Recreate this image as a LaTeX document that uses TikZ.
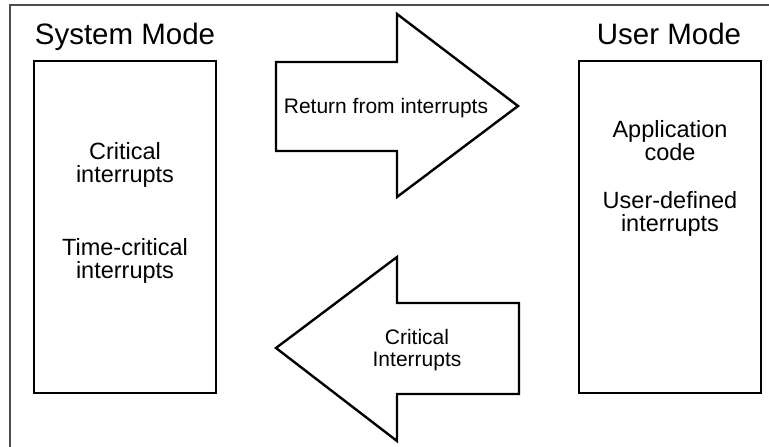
\documentclass[tikz,border=0pt]{standalone}
\usepackage{fontspec}
\setmainfont{Liberation Sans}
\begin{document}
\begin{tikzpicture}[x=1pt,y=-1pt,
  modebox/.style={draw,line width=2.8pt,minimum width=182pt,minimum height=332pt,inner sep=0pt},
  bigarrow/.style={draw,fill=white,line width=2.4pt,line join=miter},
  frameline/.style={draw=black!70,line width=1.8pt},
  title/.style={inner sep=0pt,font=\fontsize{29.5}{32}\selectfont},
  boxtext/.style={inner sep=0pt,align=center,font=\fontsize{23.5}{23}\selectfont},
  arrowtext/.style={inner sep=0pt,align=center,font=\fontsize{21}{22}\selectfont}]
\useasboundingbox (0,0) rectangle (769,447);
% frame, cut at right and bottom
\coordinate (F1) at (10,447);
\coordinate (F2) at (10,5);
\coordinate (F3) at (769,5);
\draw[frameline] (F1) -- (F2) -- (F3);
% modes
\node[modebox] (sys) at (125,227) {};
\node[modebox] (usr) at (670,227) {};
\node[title,anchor=base] (systitle) at (125,45) {System Mode};
\node[title,anchor=base] (usrtitle) at (669,45) {User Mode};
\node[boxtext] (crit) at (125,165) {Critical\\interrupts};
\node[boxtext] (tcrit) at (125,261) {Time-critical\\interrupts};
\node[boxtext] (app) at (670,141) {Application\\code};
\node[boxtext] (udef) at (670,214) {User-defined\\interrupts};
% upper arrow
\def\xA{276};
\def\xB{397};
\def\xC{518};
\draw[bigarrow] (\xA,62) -- (\xB,62) -- (\xB,14) -- (\xC,106) -- (\xB,197) -- (\xB,151) -- (\xA,151) -- cycle;
\node[arrowtext] (ret) at (386,108) {Return from interrupts};
% lower arrow
\draw[bigarrow] (519,303) -- (\xB,303) -- (\xB,257) -- (\xA,348) -- (\xB,441) -- (\xB,394) -- (519,394) -- cycle;
\node[arrowtext] (cint) at (417,350) {Critical\\Interrupts};
\end{tikzpicture}
\end{document}
